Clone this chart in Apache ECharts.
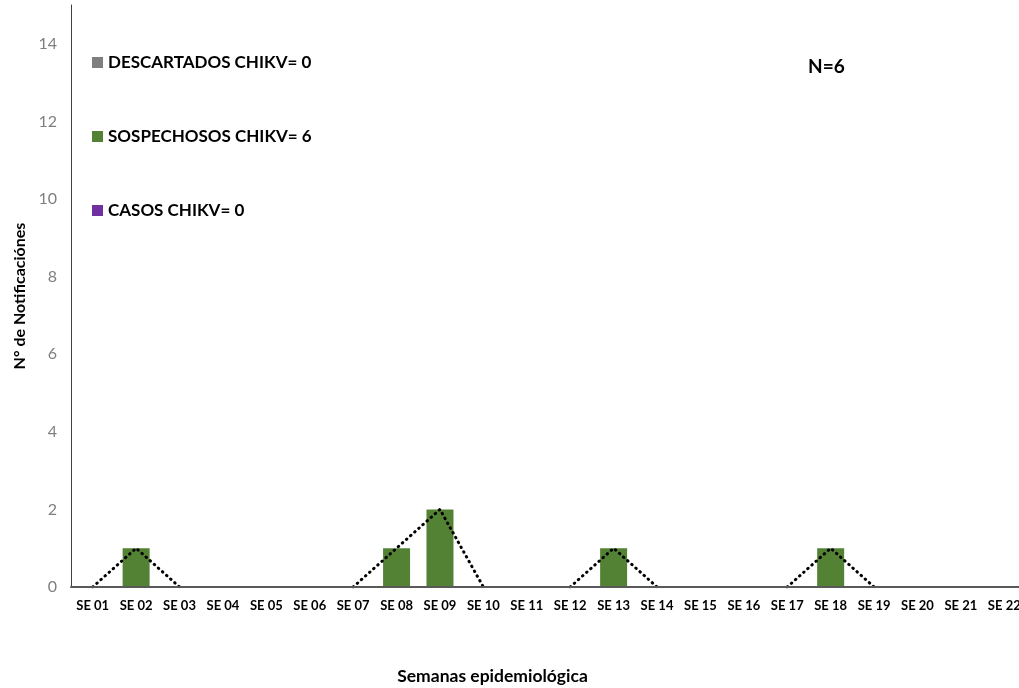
<!DOCTYPE html>
<html>
<head>
<meta charset="utf-8">
<script src="https://cdn.jsdelivr.net/npm/echarts@6/dist/echarts.min.js"></script>
<style>
  html, body { margin: 0; padding: 0; background: #fff; }
  #chart { width: 1019px; height: 688px; }
</style>
</head>
<body>
<div id="chart"></div>
<script>
  // semanas epidemiologicas
  const semanas = ['SE 01','SE 02','SE 03','SE 04','SE 05','SE 06','SE 07','SE 08','SE 09','SE 10','SE 11',
                   'SE 12','SE 13','SE 14','SE 15','SE 16','SE 17','SE 18','SE 19','SE 20','SE 21','SE 22'];
  const descartados = [0,0,0,0,0,0,0,0,0,0,0,0,0,0,0,0,0,0,0,0,0,0];
  const sospechosos = [0,1,0,0,0,0,0,1,2,0,0,0,1,0,0,0,0,1,0,0,0,0];
  const casos       = [0,0,0,0,0,0,0,0,0,0,0,0,0,0,0,0,0,0,0,0,0,0];
  const yTicks = [0, 2, 4, 6, 8, 10, 12, 14];

  // la linea punteada solo se ve donde sube o baja (lo demas queda tapado por el eje)
  const tendencia = sospechosos.map((v, i) =>
    (v > 0 || sospechosos[i - 1] > 0 || sospechosos[i + 1] > 0) ? v : null);

  const font = 'Lato, "Open Sans", sans-serif';
  let chart = echarts.init(document.getElementById('chart'));

  chart.setOption({
    animation: false,
    textStyle: { fontFamily: font },
    grid: { left: 71, top: 5, width: 955, height: 582, containLabel: false, outerBoundsMode: 'none' },
    legend: {
      data: ['DESCARTADOS CHIKV= 0', 'SOSPECHOSOS CHIKV= 6', 'CASOS CHIKV= 0'],
      orient: 'vertical',
      left: 87,
      top: 49,
      itemWidth: 11,
      itemHeight: 11,
      itemGap: 57,
      icon: 'rect',
      textStyle: { fontFamily: font, fontSize: 17, lineHeight: 16, fontWeight: 'bold', color: '#000' }
    },
    graphic: [{
      type: 'text',
      left: 808,
      top: 57,
      style: { text: 'N=6', font: 'bold 19px ' + font, fill: '#000' }
    }],
    xAxis: {
      type: 'category',
      data: semanas,
      z: 5,
      name: 'Semanas epidemiológica',
      nameLocation: 'middle',
      nameGap: 80,
      nameTextStyle: { fontFamily: font, fontSize: 17.5, fontWeight: 'bold', color: '#000', padding: [0, 112, 0, 0] },
      axisLine: { lineStyle: { color: '#595959', width: 2 } },
      axisTick: { show: false },
      axisLabel: { margin: 12, interval: 0, fontSize: 13, fontWeight: 'bold', color: '#000' }
    },
    yAxis: {
      type: 'value',
      min: 0,
      max: 15,
      interval: 2,
      name: 'N° de Notificaciónes',
      nameLocation: 'middle',
      nameGap: 36,
      nameRotate: 90,
      nameTextStyle: { fontFamily: font, fontSize: 16, fontWeight: 'bold', color: '#000' },
      axisLine: { show: true, lineStyle: { color: '#404040', width: 1 } },
      axisTick: { show: false },
      splitLine: { show: false },
      axisLabel: {
        margin: 14, fontSize: 16, color: '#7f7f7f',
        formatter: v => yTicks.indexOf(v) >= 0 ? String(v) : ''
      }
    },
    series: [
      { name: 'DESCARTADOS CHIKV= 0', type: 'bar', stack: 'a', data: descartados, barWidth: 27, itemStyle: { color: '#7f7f7f' } },
      { name: 'SOSPECHOSOS CHIKV= 6', type: 'bar', stack: 'a', data: sospechosos, barWidth: 27, itemStyle: { color: '#548235' } },
      { name: 'CASOS CHIKV= 0', type: 'bar', stack: 'a', data: casos, barWidth: 27, itemStyle: { color: '#7030a0' } },
      {
        name: 'tendencia', type: 'line', data: tendencia, symbol: 'none', z: 3,
        lineStyle: { color: '#000', width: 3, type: [0.5, 5], cap: 'round' }
      }
    ]
  });
</script>
</body>
</html>
